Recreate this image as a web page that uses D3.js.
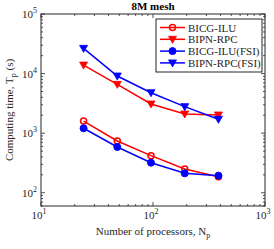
<!DOCTYPE html>
<html>
<head>
<meta charset="utf-8">
<script src="https://cdn.jsdelivr.net/npm/d3@7"></script>
<style>
  body { margin: 0; background: #fff; }
  text { font-family: "Liberation Serif", "Times New Roman", serif; fill: #262626; }
</style>
</head>
<body>
<div id="chart"></div>
<script>
// data
const procs = [24, 48, 96, 192, 384]
const bicgIlu = [1600, 740, 420, 250, 186]
const bipnRpc = [13900, 6600, 3090, 2100, 2020]
const bicgIluFsi = [1210, 587, 320, 212, 194]
const bipnRpcFsi = [26500, 9100, 4780, 2790, 1710]
const seriesNames = ["BICG-ILU", "BIPN-RPC", "BICG-ILU(FSI)", "BIPN-RPC(FSI)"]
const xTicks = [10, 100, 1000]
const yTicks = [100, 1000, 10000, 100000]

const W = 274, H = 249
const margin = {top: 14, right: 9, bottom: 43, left: 41}
const width = W - margin.left - margin.right,
  height = H - margin.top - margin.bottom

const svg = d3.select("#chart").append("svg")
  .attr("width", W).attr("height", H)

const g = svg.append("g")
  .attr("transform", `translate(${margin.left},${margin.top})`)

const x = d3.scaleLog().domain([10, 1000]).range([0, width])
const y = d3.scaleLog().domain([60, 100000]).range([height, 0])

// minor ticks
const xMinor = []
for (let d = 10; d < 1000; d *= 10) for (let k = 2; k <= 9; k++) xMinor.push(d * k)
const yMinor = []
for (let d = 10; d < 100000; d *= 10) for (let k = 2; k <= 9; k++) if (d * k >= 60) yMinor.push(d * k)

const axisCol = "#262626"
const tickG = g.append("g").attr("stroke", axisCol).attr("stroke-width", 0.8)
xMinor.forEach(v => {
  tickG.append("line").attr("x1", x(v)).attr("x2", x(v)).attr("y1", height).attr("y2", height - 2)
  tickG.append("line").attr("x1", x(v)).attr("x2", x(v)).attr("y1", 0).attr("y2", 2)
})
xTicks.forEach(v => {
  tickG.append("line").attr("x1", x(v)).attr("x2", x(v)).attr("y1", height).attr("y2", height - 4)
  tickG.append("line").attr("x1", x(v)).attr("x2", x(v)).attr("y1", 0).attr("y2", 4)
})
yMinor.forEach(v => {
  tickG.append("line").attr("x1", 0).attr("x2", 2).attr("y1", y(v)).attr("y2", y(v))
  tickG.append("line").attr("x1", width).attr("x2", width - 2).attr("y1", y(v)).attr("y2", y(v))
})
yTicks.forEach(v => {
  tickG.append("line").attr("x1", 0).attr("x2", 4).attr("y1", y(v)).attr("y2", y(v))
  tickG.append("line").attr("x1", width).attr("x2", width - 4).attr("y1", y(v)).attr("y2", y(v))
})

// frame
g.append("rect").attr("width", width).attr("height", height)
  .attr("fill", "none").attr("stroke", axisCol).attr("stroke-width", 1)

// tick labels
const powLabel = (sel, v) => {
  const e = Math.round(Math.log10(v))
  sel.append("tspan").text("10")
  sel.append("tspan").attr("dy", -5).attr("font-size", 8).text(e)
}
xTicks.forEach(v => {
  const t = g.append("text").attr("x", x(v) - 2).attr("y", height + 13)
    .attr("text-anchor", "middle").attr("font-size", 11)
  powLabel(t, v)
})
yTicks.forEach(v => {
  const t = g.append("text").attr("x", -4).attr("y", y(v) + 4)
    .attr("text-anchor", "end").attr("font-size", 11)
  powLabel(t, v)
})

// axis titles
const xl = svg.append("text").attr("x", margin.left + width / 2).attr("y", 235)
  .attr("text-anchor", "middle").attr("font-size", 11)
xl.append("tspan").text("Number of processors, N")
xl.append("tspan").attr("dy", 3).attr("font-size", 8).text("p")

const yl = svg.append("text")
  .attr("transform", `translate(13,${margin.top + height / 2}) rotate(-90)`)
  .attr("text-anchor", "middle").attr("font-size", 11)
yl.append("tspan").text("Computing time, T")
yl.append("tspan").attr("dy", 3).attr("font-size", 8).text("p")
yl.append("tspan").attr("dy", -3).text(" (s)")

svg.append("text").attr("x", margin.left + width / 2).attr("y", 10)
  .attr("text-anchor", "middle").attr("font-size", 11).attr("font-weight", "bold")
  .style("fill", "#000").text("8M mesh")

// series
const series = [
  {name: seriesNames[0], vals: bicgIlu, color: "#ff0000", marker: "circleOpen"},
  {name: seriesNames[1], vals: bipnRpc, color: "#ff0000", marker: "tri"},
  {name: seriesNames[2], vals: bicgIluFsi, color: "#0000ff", marker: "circle"},
  {name: seriesNames[3], vals: bipnRpcFsi, color: "#0000ff", marker: "tri"}
]

const line = d3.line().x(d => x(d[0])).y(d => y(d[1]))

const drawMarker = (sel, type, color, cx, cy) => {
  if (type === "tri") {
    sel.append("path").attr("d", `M${cx - 4},${cy - 3}L${cx + 4},${cy - 3}L${cx},${cy + 4}Z`)
      .attr("fill", color).attr("stroke", color).attr("stroke-width", 0.8)
  } else if (type === "circle") {
    sel.append("circle").attr("cx", cx).attr("cy", cy).attr("r", 3.5)
      .attr("fill", color).attr("stroke", color)
  } else {
    sel.append("circle").attr("cx", cx).attr("cy", cy).attr("r", 3)
      .attr("fill", "none").attr("stroke", color).attr("stroke-width", 1.5)
  }
}

series.forEach(s => {
  const pts = procs.map((p, i) => [p, s.vals[i]])
  g.append("path").datum(pts).attr("d", line)
    .attr("fill", "none").attr("stroke", s.color).attr("stroke-width", 1.5)
  const mg = g.append("g")
  pts.forEach(d => drawMarker(mg, s.marker, s.color, x(d[0]), y(d[1])))
})

// legend
const lg = svg.append("g")
lg.append("rect").attr("x", 156).attr("y", 19).attr("width", 106).attr("height", 53)
  .attr("fill", "#fff").attr("stroke", axisCol).attr("stroke-width", 1)
series.forEach((s, i) => {
  const ly = 27.5 + i * 11.8
  lg.append("line").attr("x1", 160).attr("x2", 185).attr("y1", ly).attr("y2", ly)
    .attr("stroke", s.color).attr("stroke-width", 1.5)
  drawMarker(lg, s.marker, s.color, 172.5, ly)
  lg.append("text").attr("x", 188).attr("y", ly + 4).attr("font-size", 11).text(s.name)
})
</script>
</body>
</html>
